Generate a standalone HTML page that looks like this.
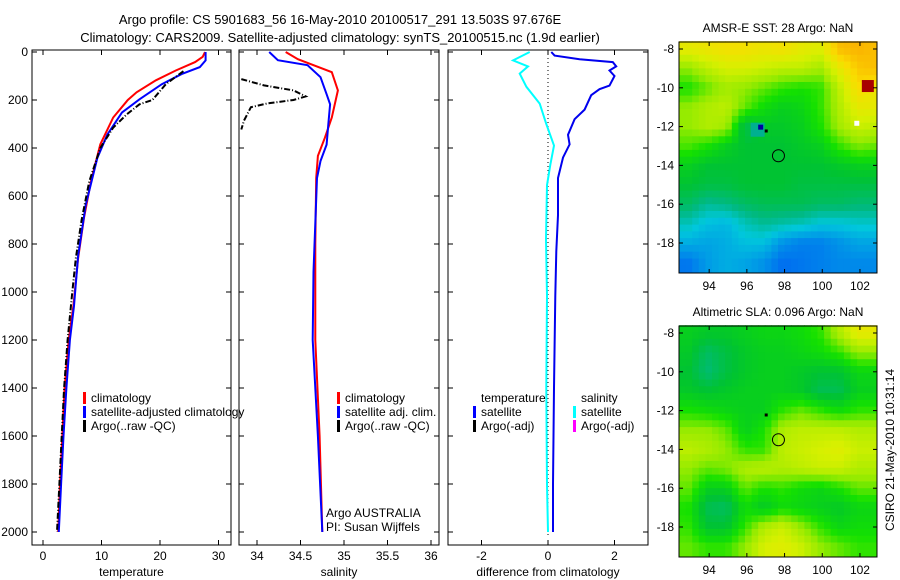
<!DOCTYPE html>
<html><head><meta charset="utf-8"><style>
body{margin:0;background:#fff;}
svg{display:block;font-family:"Liberation Sans",sans-serif;}
</style></head><body>
<svg id="fig" width="900" height="580" viewBox="0 0 900 580" xmlns="http://www.w3.org/2000/svg">
<rect width="900" height="580" fill="#fff"/>
<text x="340" y="24" font-size="13" text-anchor="middle">Argo profile: CS 5901683_56 16-May-2010 20100517_291 13.503S 97.676E</text>
<text x="340" y="42" font-size="13" text-anchor="middle">Climatology: CARS2009. Satellite-adjusted climatology: synTS_20100515.nc (1.9d earlier)</text>
<g id="plots"></g>
</svg>
<script>
// ---------- data ----------
const pTicks=[0,200,400,600,800,1000,1200,1400,1600,1800,2000];
const tTicks=[0,10,20,30];
const sTicks=[34,34.5,35,35.5,36];
const sTickLabels=["34","34.5","35","35.5","36"];
const dTicks=[-2,0,2];
// temperature
const tClimP=[0,20,42,77,118,168,200,273,385,538,693,860,1058,1200,1400,1600,1800,2000];
const tClimV=[27.7,27.3,26,22.7,19.3,16,14.5,12,9.8,8.2,7,6,5.2,4.4,3.7,3.3,2.9,2.6];
const tSatP=[0,35,63,92,134,197,252,344,441,638,850,1058,1200,1400,1600,1800,2000];
const tSatV=[27.8,27.8,26.8,23.7,20.3,16.5,13.5,11,9.3,7.3,6,5.3,4.6,4,3.5,3.1,2.7];
const tArgoP=[80,134,200,218,260,315,400,540,700,860,1000,1200,1400,1600,1800,2000];
const tArgoV=[24,21,18.7,16.5,14.3,12,9.8,7.9,6.6,5.6,5,4.2,3.6,3.2,2.8,2.4];
// salinity
const sClimP=[0,30,84,160,273,357,433,525,800,1200,1600,2000];
const sClimV=[34.33,34.47,34.86,34.93,34.86,34.78,34.7,34.68,34.67,34.67,34.72,34.75];
const sSatP=[0,34,55,105,176,218,302,386,454,525,916,1200,1600,2000];
const sSatV=[34.14,34.24,34.58,34.73,34.8,34.84,34.82,34.8,34.73,34.69,34.65,34.64,34.7,34.75];
const sArgoP=[113,139,160,185,200,214,230,286,323];
const sArgoV=[33.82,34.08,34.42,34.56,34.42,34.12,33.93,33.85,33.82];
// differences
const dTP=[0,15,30,42,60,77,100,140,155,180,240,280,345,385,440,525,680,830,1015,1400,1800,2000];
const dTV=[0.1,0.2,0.95,1.95,2.05,1.85,2.0,1.85,1.55,1.3,1.1,0.8,0.6,0.65,0.45,0.3,0.3,0.25,0.22,0.18,0.15,0.15];
const dSP=[0,35,60,90,145,215,300,390,470,555,780,1015,1400,1800,2000];
const dSV=[-0.55,-1.05,-0.6,-0.85,-0.65,-0.25,-0.05,0.18,0.07,-0.03,-0.06,-0.03,-0.05,-0.03,0];
// maps (colour index 0..7), rows lat -8..-19, cols lon 93..103
const lonCenters=[92.9,93.9,94.9,95.9,96.9,97.9,98.9,99.9,100.9,101.9,102.9];
const sstGrid=[
[4.7,4.8,4.9,4.9,4.8,4.9,4.7,4.6,5.3,5.4,5.3],
[4.0,4.3,4.5,4.5,4.4,4.3,4.3,4.1,4.7,5.2,5.3],
[3.5,3.8,4.1,4.0,3.8,3.6,3.5,3.6,4.3,5.0,4.8],
[4.0,4.2,4.3,3.8,3.4,3.2,3.3,3.6,4.2,4.7,4.7],
[4.0,4.2,4.1,2.8,3.1,3.1,3.2,3.5,4.1,4.4,4.3],
[3.7,3.5,3.2,3.0,3.0,3.0,3.1,3.2,3.6,3.9,3.8],
[3.2,3.0,3.0,3.0,3.0,3.0,3.0,3.0,3.1,3.2,3.2],
[3.0,2.9,2.9,3.0,3.0,3.0,2.9,2.9,2.9,2.9,2.9],
[2.7,2.4,2.5,2.7,2.8,2.8,2.8,2.7,2.7,2.6,2.6],
[2.2,1.9,1.8,2.2,2.4,2.3,2.2,2.0,2.0,2.1,2.1],
[1.7,1.6,1.7,1.9,1.9,1.4,1.2,1.2,1.4,1.6,1.6],
[1.1,1.5,1.7,1.6,1.4,1.0,1.1,1.2,1.3,1.3,1.3]];
const slaGrid=[
[3.2,3.1,3.1,3.2,3.3,3.3,3.4,3.6,4.2,4.7,4.7],
[3.1,2.7,2.9,3.1,3.2,3.2,3.3,3.4,3.6,4.0,4.0],
[3.0,2.6,2.9,3.1,3.2,3.2,3.1,3.0,3.0,3.3,3.3],
[3.1,3.0,3.1,3.2,3.2,3.2,3.1,2.8,2.8,3.2,3.2],
[3.5,3.4,3.3,3.2,3.2,3.6,3.8,3.6,3.4,3.6,3.6],
[4.0,4.0,3.8,3.2,3.5,4.2,4.3,4.3,4.3,4.2,4.2],
[4.3,4.2,4.0,3.6,3.6,4.3,4.4,4.5,4.6,4.4,4.4],
[4.0,3.8,3.9,4.2,4.3,4.2,4.3,4.4,4.4,4.2,4.2],
[3.8,3.2,3.2,3.8,3.5,3.6,3.4,3.3,3.5,3.8,3.8],
[3.5,2.8,2.7,3.4,3.1,3.4,3.3,3.2,3.1,3.3,3.3],
[3.6,3.0,3.0,3.6,4.2,4.4,4.0,3.6,3.3,3.4,3.4],
[3.8,3.6,3.6,4.0,4.5,4.6,4.4,4.0,3.8,3.6,3.6]];
const mapLonTicks=[94,96,98,100,102];
const mapLatTicks=[-8,-10,-12,-14,-16,-18];

// ---------- drawing ----------
const NS="http://www.w3.org/2000/svg";
const root=document.getElementById('plots');
function mk(tag,attrs,parent){const e=document.createElementNS(NS,tag);for(const k in attrs)e.setAttribute(k,attrs[k]);(parent||root).appendChild(e);return e;}
function txt(s,x,y,anchor,size,parent){const t=mk('text',{x:x,y:y,'text-anchor':anchor||'middle','font-size':size||12},parent);t.textContent=s;return t;}
const yP=p=>52+p*0.24;
const TOP=50,BOT=545;
const panels=[
 {name:'temperature-panel',x0:32,x1:231,f:v=>43+v*5.85,ticks:tTicks,labels:tTicks.map(String),title:'temperature'},
 {name:'salinity-panel',x0:239,x1:439,f:v=>257+(v-34)*87,ticks:sTicks,labels:sTickLabels,title:'salinity'},
 {name:'difference-panel',x0:448,x1:648,f:v=>548+v*33.25,ticks:dTicks,labels:dTicks.map(String),title:'difference from climatology'}];
panels.forEach((pn,i)=>{
  const g=mk('g',{});
  
  
  const clip=mk('clipPath',{id:'c'+i},g);mk('rect',{x:pn.x0,y:TOP,width:pn.x1-pn.x0,height:BOT-TOP},clip);
  pn.g=g;pn.clip='url(#c'+i+')';
  pn.ticks.forEach((t,j)=>{const x=pn.f(t);
    mk('line',{x1:x,x2:x,y1:BOT,y2:BOT-5,stroke:'#000'},g);mk('line',{x1:x,x2:x,y1:TOP,y2:TOP+5,stroke:'#000'},g);
    const l=txt(pn.labels[j],x,560,'middle',12,g);
    
    });
  pTicks.forEach(p=>{const y=yP(p);
    mk('line',{x1:pn.x0,x2:pn.x0+5,y1:y,y2:y,stroke:'#000'},g);mk('line',{x1:pn.x1,x2:pn.x1-5,y1:y,y2:y,stroke:'#000'},g);
    if(i===0){const l=txt(String(p),28,y+4,'end',12,g);
      
      }});
  const at=txt(pn.title,(pn.x0+pn.x1)/2,576,'middle',12,g);
  
  
});
function series(pn,P,V,color,name,extra){
  const d=P.map((p,k)=>(k?'L':'M')+pn.f(V[k]).toFixed(1)+','+yP(p).toFixed(1)).join('');
  const e=mk('path',Object.assign({d:d,fill:'none',stroke:color,'stroke-width':2,'clip-path':pn.clip},extra||{}),pn.g);
  
  
}
const [PT,PS,PD]=panels;
series(PT,tClimP,tClimV,'#f00','temp-climatology-line');
series(PT,tSatP,tSatV,'#00f','temp-satellite-line');
series(PT,tArgoP,tArgoV,'#000','temp-argo-line',{'stroke-dasharray':'6,2,1,2'});
series(PS,sClimP,sClimV,'#f00','sal-climatology-line');
series(PS,sSatP,sSatV,'#00f','sal-satellite-line');
series(PS,sArgoP,sArgoV,'#000','sal-argo-line',{'stroke-dasharray':'6,2,1,2'});
const zl=mk('line',{x1:PD.f(0),x2:PD.f(0),y1:TOP,y2:BOT-10,stroke:'#000','stroke-dasharray':'1,3'},PD.g);


series(PD,dTP,dTV,'#0000ee','temp-diff-satellite-line');
series(PD,dSP,dSV,'#0ff','sal-diff-satellite-line');
panels.forEach(pn=>{const r=mk('rect',{x:pn.x0,y:TOP,width:pn.x1-pn.x0,height:BOT-TOP,fill:'none',stroke:'#000'},pn.g);
  
  });
function legend(g,items,x,y,tx){items.forEach((it,k)=>{const yy=y+k*14;
  if(it[1]){mk('rect',{x:x,y:yy-10,width:3,height:12,fill:it[1]},g);}
  const t=txt(it[0],it[1]?x+8:tx,yy,'start',12,g);
  
  });}
legend(PT.g,[['climatology','#f00'],['satellite-adjusted climatology','#00f'],['Argo(..raw -QC)','#000']],83,402);
legend(PS.g,[['climatology','#f00'],['satellite adj. clim.','#00f'],['Argo(..raw -QC)','#000']],337,402);
legend(PD.g,[['temperature',null],['satellite','#00f'],['Argo(-adj)','#000']],473,402,481);
legend(PD.g,[['salinity',null],['satellite','#0ff'],['Argo(-adj)','#f0f']],573,402,581);
const a1=txt('Argo AUSTRALIA',326,517,'start',12,PS.g);


const a2=txt('PI: Susan Wijffels',326,531,'start',12,PS.g);



// maps
const stops=[[0,[0,0,160]],[1,[0,110,240]],[2,[0,200,220]],[2.5,[0,185,130]],[3,[0,195,50]],[3.5,[20,225,0]],[4,[150,235,0]],[4.5,[215,240,0]],[5,[250,220,0]],[5.5,[250,170,0]],[7,[170,0,0]]];
function cmap(v){for(let k=1;k<stops.length;k++){if(v<=stops[k][0]){const a=stops[k-1],b=stops[k],t=(v-a[0])/(b[0]-a[0]);
  return 'rgb('+a[1].map((c,j)=>Math.round(c+(b[1][j]-c)*t)).join(',')+')';}}return 'rgb(170,0,0)';}
function sample(grid,lon,lat){let fx=(lon-lonCenters[0]);let fy=(-8-lat);
  fx=Math.max(0,Math.min(grid[0].length-1.001,fx));fy=Math.max(0,Math.min(grid.length-1.001,fy));
  const i=Math.floor(fy),j=Math.floor(fx),u=fx-j,v=fy-i;
  return grid[i][j]*(1-u)*(1-v)+grid[i][j+1]*u*(1-v)+grid[i+1][j]*(1-u)*v+grid[i+1][j+1]*u*v;}
function drawMap(grid,top,title,name,isSST){
  const g=mk('g',{});
  
  
  const L=679,R=877,lon0=92.4,sx=18.85,sy=19.4,B=top+231;
  const xL=lon=>L+(lon-lon0)*sx, yL=lat=>top+7+(-8-lat)*sy;
  const step=0.35;
  for(let lat=-7.6;lat>-19.6;lat-=step){for(let lon=lon0;lon<102.9;lon+=step){
    const x=xL(lon),y=yL(lat);
    mk('rect',{x:x.toFixed(1),y:y.toFixed(1),width:(step*sx+0.6).toFixed(1),height:(step*sy+0.6).toFixed(1),fill:cmap(sample(grid,lon+step/2,lat-step/2))},g);}}
  if(isSST){
    mk('rect',{x:xL(102.1),y:yL(-9.6),width:12,height:12,fill:'#a80000'},g);
    mk('rect',{x:xL(101.7),y:yL(-11.7),width:5,height:5,fill:'#fff'},g);
    mk('rect',{x:xL(96.2),y:yL(-11.8),width:14,height:14,fill:'#00b090'},g);
    mk('rect',{x:xL(96.6),y:yL(-11.9),width:5,height:5,fill:'#0000a0'},g);
  }
  mk('rect',{x:R+0.5,y:top-2,width:10,height:240,fill:'#fff'},g);
  mk('rect',{x:L-2,y:B+0.5,width:210,height:8,fill:'#fff'},g);
  mk('rect',{x:L,y:top,width:R-L,height:B-top,fill:'none',stroke:'#000'},g);
  mapLonTicks.forEach(t=>{const x=xL(t);mk('line',{x1:x,x2:x,y1:B,y2:B-4,stroke:'#000'},g);mk('line',{x1:x,x2:x,y1:top,y2:top+4,stroke:'#000'},g);txt(String(t),x,B+17,'middle',12,g);});
  mapLatTicks.forEach(t=>{const y=yL(t);mk('line',{x1:L,x2:L+4,y1:y,y2:y,stroke:'#000'},g);mk('line',{x1:R,x2:R-4,y1:y,y2:y,stroke:'#000'},g);txt(String(t),L-5,y+4,'end',12,g);});
  const c=mk('circle',{cx:xL(97.676),cy:yL(-13.503),r:6,fill:'none',stroke:'#000'},g);
  
  
  mk('rect',{x:xL(97)-1,y:yL(-12.2)-1,width:3,height:3,fill:'#000'},g);
  const t=txt(title,(L+R)/2,top-10,'middle',12,g);
  
  
}
drawMap(sstGrid,42,'AMSR-E SST: 28 Argo: NaN','sst-map',true);
drawMap(slaGrid,326,'Altimetric SLA: 0.096 Argo: NaN','sla-map',false);
const cs=txt('CSIRO 21-May-2010 10:31:14',0,0,'middle',12);
cs.setAttribute('transform','translate(894,450) rotate(-90)');


</script>
</body></html>
